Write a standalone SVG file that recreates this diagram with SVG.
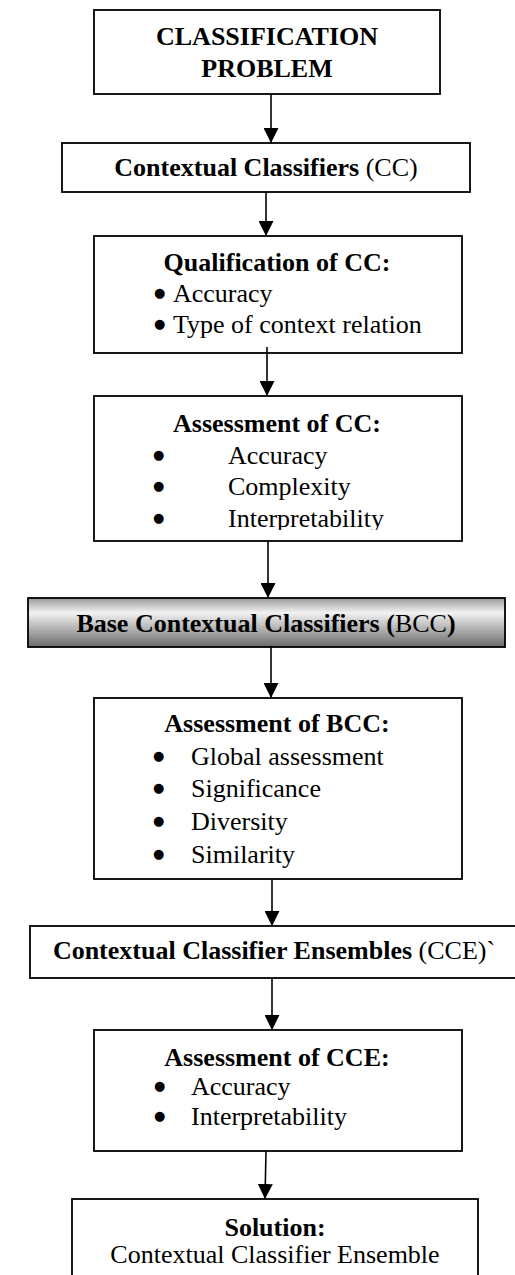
<svg xmlns="http://www.w3.org/2000/svg" width="515" height="1275" viewBox="0 0 515 1275">
<style>
.box{fill:#fff;stroke:#000;stroke-width:1.8}
.t{font-family:"Liberation Serif","Times New Roman",serif;font-size:26px;fill:#000}
.bl{font-family:"DejaVu Sans",sans-serif;font-size:13px;fill:#000}
.b{font-weight:bold}
.c{text-anchor:middle}
.conn line{stroke:#000;stroke-width:1.6}
</style>
<defs>
<marker id="ah" markerWidth="15" markerHeight="15" refX="15" refY="7.5" orient="auto" markerUnits="userSpaceOnUse">
<path d="M0,0 L15,7.5 L0,15 Z" fill="#000"/>
</marker>
<linearGradient id="g" x1="0" y1="0" x2="0" y2="1">
<stop offset="0" stop-color="#9a9a9a"/>
<stop offset="0.3" stop-color="#f2f2f2"/>
<stop offset="1" stop-color="#6a6a6a"/>
</linearGradient>
<clipPath id="clip4"><rect x="94" y="396" width="368" height="134"/></clipPath>
</defs>
<rect width="515" height="1275" fill="#fff"/>

<g id="n1">
<rect class="box" x="94" y="10" width="346" height="84"/>
<text class="t b c" x="267" y="45">CLASSIFICATION</text>
<text class="t b c" x="267" y="77">PROBLEM</text>
</g>

<g id="n2">
<rect class="box" x="62" y="143" width="408" height="49"/>
<text class="t c" x="266" y="176"><tspan font-weight="bold">Contextual Classifiers</tspan> (CC)</text>
</g>

<g id="n3">
<rect class="box" x="94" y="236" width="368" height="117"/>
<text class="t b c" x="277" y="271">Qualification of CC:</text>
<text class="bl" x="154" y="297">●</text><text class="t" x="173" y="302">Accuracy</text>
<text class="bl" x="154" y="328">●</text><text class="t" x="173" y="333">Type of context relation</text>
</g>

<g id="n4">
<rect class="box" x="94" y="396" width="368" height="145"/>
<text class="t b c" x="277" y="432">Assessment of CC:</text>
<g clip-path="url(#clip4)">
<text class="bl" x="153" y="459">●</text><text class="t" x="228" y="464">Accuracy</text>
<text class="bl" x="153" y="490">●</text><text class="t" x="228" y="495">Complexity</text>
<text class="bl" x="153" y="522">●</text><text class="t" x="228" y="527">Interpretability</text>
</g>
</g>

<g id="n5">
<rect x="28" y="598" width="477" height="49" fill="url(#g)" stroke="#000" stroke-width="1.8"/>
<text class="t c" x="266" y="632"><tspan font-weight="bold">Base Contextual Classifiers (</tspan>BCC<tspan font-weight="bold">)</tspan></text>
</g>

<g id="n6">
<rect class="box" x="94" y="698" width="368" height="181"/>
<text class="t b c" x="277" y="732">Assessment of BCC:</text>
<text class="bl" x="153" y="760">●</text><text class="t" x="191" y="765">Global assessment</text>
<text class="bl" x="153" y="792">●</text><text class="t" x="191" y="797">Significance</text>
<text class="bl" x="153" y="825">●</text><text class="t" x="191" y="830">Diversity</text>
<text class="bl" x="153" y="858">●</text><text class="t" x="191" y="863">Similarity</text>
</g>

<g id="n7">
<rect class="box" x="30" y="926" width="495" height="52"/>
<text class="t c" x="274" y="959"><tspan font-weight="bold">Contextual Classifier Ensembles</tspan> (CCE)`</text>
</g>

<g id="n8">
<rect class="box" x="94" y="1030" width="368" height="121"/>
<text class="t b c" x="277" y="1066">Assessment of CCE:</text>
<text class="bl" x="154" y="1090">●</text><text class="t" x="191" y="1095">Accuracy</text>
<text class="bl" x="154" y="1120">●</text><text class="t" x="191" y="1125">Interpretability</text>
</g>

<g id="n9">
<rect class="box" x="72" y="1199" width="406" height="100"/>
<text class="t b c" x="275" y="1236">Solution:</text>
<text class="t c" x="275" y="1263">Contextual Classifier Ensemble</text>
</g>

<g id="connectors" class="conn">
<line x1="271" y1="94" x2="271" y2="143" marker-end="url(#ah)"/>
<line x1="266" y1="192" x2="266" y2="236" marker-end="url(#ah)"/>
<line x1="267" y1="347" x2="267" y2="396" marker-end="url(#ah)"/>
<line x1="268" y1="541" x2="268" y2="598" marker-end="url(#ah)"/>
<line x1="271" y1="647" x2="271" y2="698" marker-end="url(#ah)"/>
<line x1="272" y1="879" x2="272" y2="926" marker-end="url(#ah)"/>
<line x1="272" y1="978" x2="272" y2="1030" marker-end="url(#ah)"/>
<line x1="266" y1="1151" x2="265" y2="1199" marker-end="url(#ah)"/>
</g>
</svg>
